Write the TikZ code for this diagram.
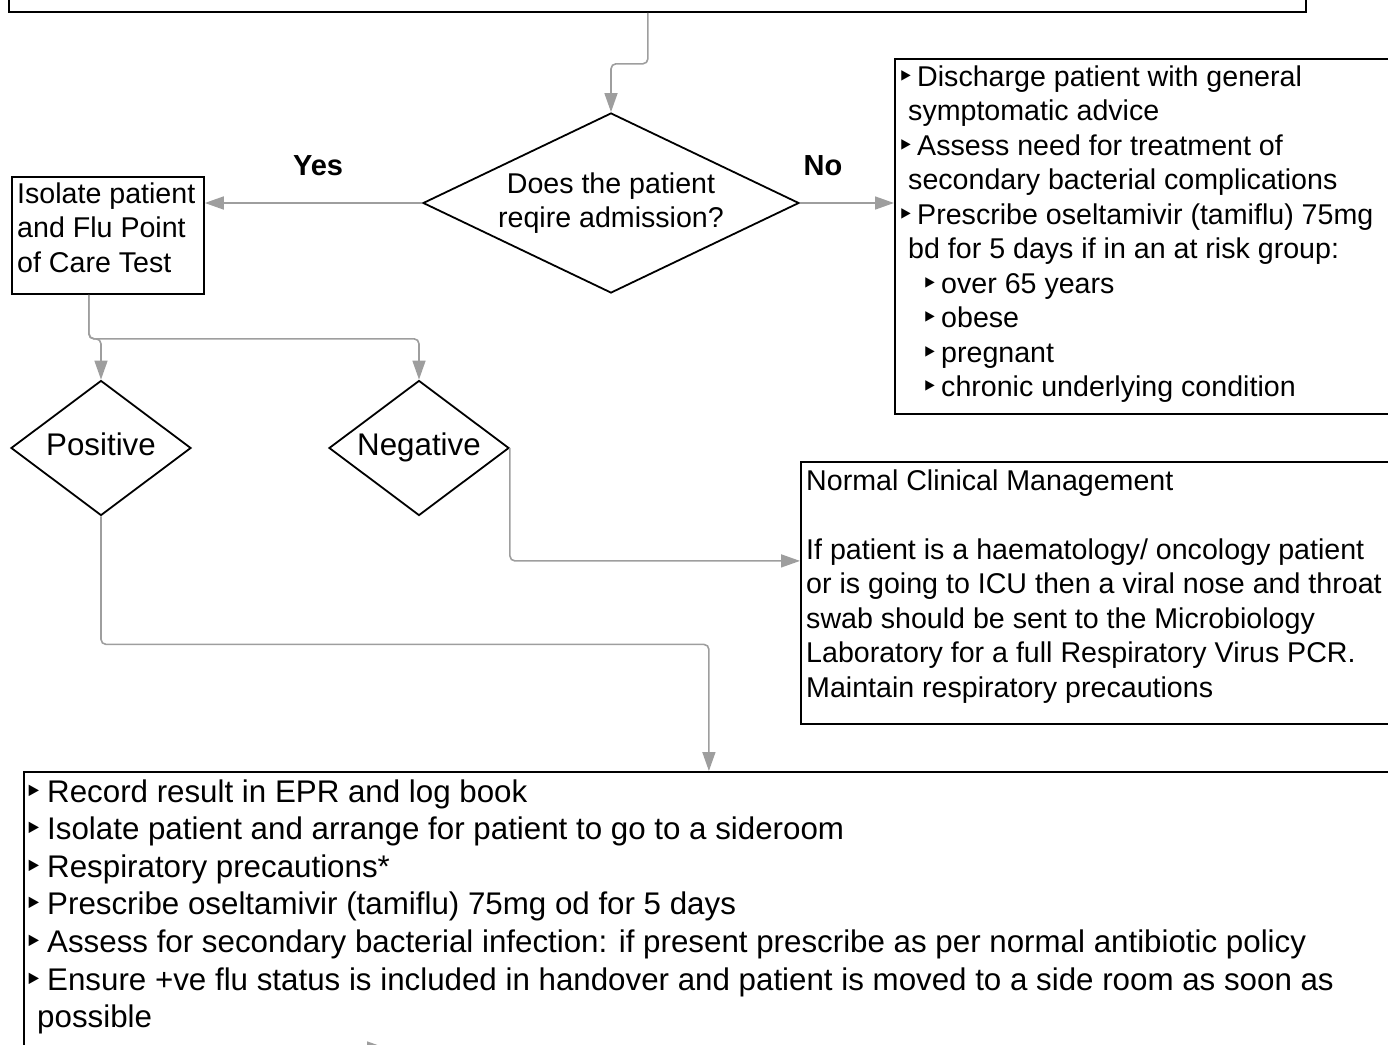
\documentclass[tikz,border=0pt]{standalone}
\usepackage{fontspec}
\setmainfont{Liberation Sans}
\newfontfamily\dejavu{DejaVu Sans}
\usetikzlibrary{shapes.geometric,arrows.meta}
\definecolor{lineg}{HTML}{9E9E9E}
\newcommand{\fa}{\fontsize{28.6}{34.5}\selectfont}
\newcommand{\fb}{\fontsize{31.3}{37.6}\selectfont}
\newcommand{\tri}{{\dejavu\char"2023}}
\newcommand{\bula}{\makebox[16pt][l]{\hspace*{-4pt}\tri}}
\newcommand{\bulb}{\makebox[18pt][l]{\hspace*{-5pt}\tri}}
\begin{document}
\begin{tikzpicture}[x=1pt,y=-1pt,
  box/.style={draw=black,line width=1.8pt,rectangle,inner sep=0pt,anchor=north west},
  txt/.style={align=left,inner sep=0pt,anchor=base west,font=\fa},
  dia/.style={draw=black,diamond,line width=1.8pt,inner sep=0pt,align=center,font=\fa},
  conn/.style={draw=lineg,line width=1.6pt,rounded corners=5pt,-{Triangle[length=19pt,width=13pt]}},
  lbl/.style={font=\bfseries\fontsize{29}{34}\selectfont,inner sep=0pt}]
\useasboundingbox (0,0) rectangle (1388,1044);
\clip (0,0) rectangle (1388,1044);
% boxes
\node[box,minimum width=1297,minimum height=80] (top) at (8,-69) {};
\node[dia,minimum width=376,minimum height=180,aspect=2.09] (d1) at (611,203) {Does the patient\\reqire admission?};
\node[box,minimum width=192,minimum height=117] (iso) at (11,176) {};
\node[txt] (isot) at (17,272) {Isolate patient\\and Flu Point\\of Care Test};
\node[box,minimum width=520,minimum height=355] (dis) at (894,58) {};
\node[txt] (dist) at (901,396.5) {\bula Discharge patient with general\\\hspace*{7pt}symptomatic advice\\\bula Assess need for treatment of\\\hspace*{7pt}secondary bacterial complications\\\bula Prescribe oseltamivir (tamiflu) 75mg\\\hspace*{7pt}bd for 5 days if in an at risk group:\\\hspace*{24pt}\bula over 65 years\\\hspace*{24pt}\bula obese\\\hspace*{24pt}\bula pregnant\\\hspace*{24pt}\bula chronic underlying condition};
\node[lbl] (yes) at (318,166) {Yes};
\node[lbl] (no) at (823,166) {No};
\node[dia,minimum width=180,minimum height=135,aspect=1.33,font=\fb,text height=22pt,text depth=7pt] (pos) at (101,448) {Positive};
\node[dia,minimum width=180,minimum height=135,aspect=1.33,font=\fb,text height=22pt,text depth=7pt] (neg) at (419,448) {Negative};
\node[box,minimum width=600,minimum height=262] (nor) at (800,461) {};
\node[txt] (nort) at (806,697) {Normal Clinical Management\\[34.5pt]If patient is a haematology/ oncology patient\\or is going to ICU then a viral nose and throat\\swab should be sent to the Microbiology\\Laboratory for a full Respiratory Virus PCR.\\Maintain respiratory precautions};
\node[box,minimum width=1370,minimum height=320] (bot) at (23,771) {};
\node[txt,font=\fb] (bott) at (29,1027.6) {\bulb Record result in EPR and log book\\\bulb Isolate patient and arrange for patient to go to a sideroom\\\bulb Respiratory precautions*\\\bulb Prescribe oseltamivir (tamiflu) 75mg od for 5 days\\\bulb Assess for secondary bacterial infection: if present prescribe as per normal antibiotic policy\\\bulb Ensure +ve flu status is included in handover and patient is moved to a side room as soon as\\\hspace*{8pt}possible};
% connectors
\draw[conn] ([xshift=-9.5pt]top.south) -- ++(0,51) -| (d1.north);
\draw[conn] (d1.west) -- (d1.west -| iso.east);
\draw[conn] (d1.east) -- (d1.east -| dis.west);
\draw[conn] ([xshift=-19pt]iso.south) -- ++(0,44) -| (pos.north);
\draw[conn] ([xshift=-19pt]iso.south) -- ++(0,44) -| (neg.north);
\draw[conn] (neg.east) |- ([yshift=32pt]nor.west);
\draw[conn] (pos.south) -- ++(0,128) -| (bot.north);
\coordinate (tailA) at (250,1048);
\coordinate (tipA) at (386,1048);
\draw[conn] (tailA) -- (tipA);
\end{tikzpicture}
\end{document}
